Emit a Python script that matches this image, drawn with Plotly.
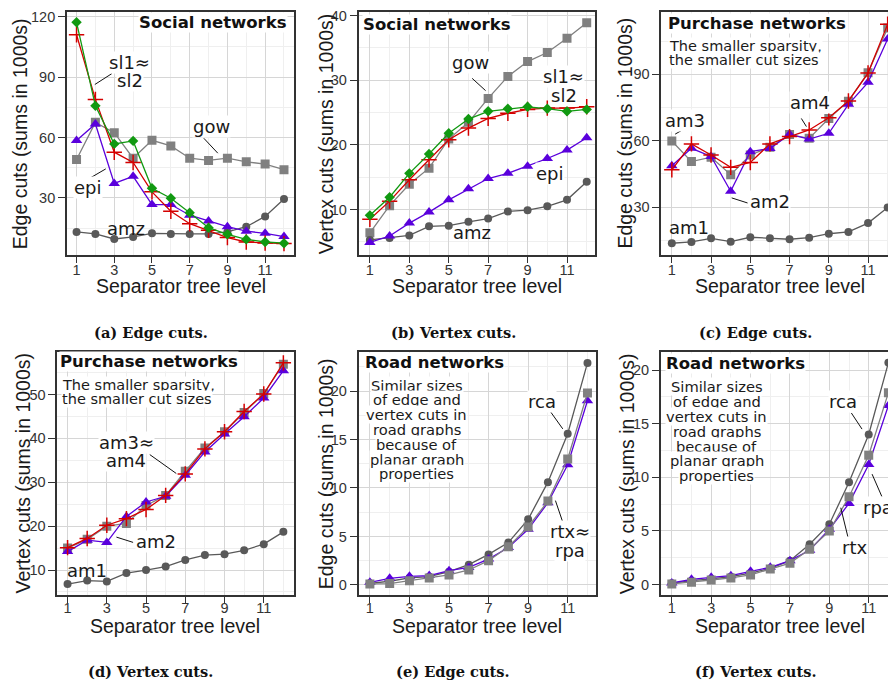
import plotly.graph_objects as go

W, H = 896, 683
OFF = 8  # page body margin of the html page

levels = list(range(1, 13))
tick_levels = [1, 3, 5, 7, 9, 11]

# social networks, edge cuts (sums in 1000s)
sl1_edge = [111, 78.9, 52.7, 47.6, 33, 23.4, 17.2, 13.9, 10.3, 8.1, 7.6, 7.3]
sl2_edge = [117.2, 75.7, 56.8, 58.3, 34.8, 29.8, 22.6, 15.2, 11.9, 9.4, 8.1, 7.5]
epi_edge = [58.5, 66.7, 37.2, 40.7, 26.7, 26.7, 21.4, 18.5, 15.7, 13.5, 12.4, 10.8]
gow_edge = [49.1, 67.5, 62.4, 49.7, 58.6, 55.8, 49.7, 48.6, 49.7, 47.9, 46.8, 44]
amz_edge = [13.1, 12.1, 9.6, 10.6, 12.4, 12.1, 12.1, 12.1, 13.1, 15.7, 20.8, 29.5]

# social networks, vertex cuts
sl1_vert = [8.5, 11.3, 14.6, 17.7, 20.8, 22.6, 24.1, 24.9, 25.5, 25.7, 25.7, 25.9]
sl2_vert = [9.1, 11.9, 15.6, 18.6, 21.8, 24.0, 25.2, 25.6, 25.9, 25.6, 25.2, 25.5]
epi_vert = [4.9, 5.9, 7.9, 9.6, 11.5, 13.2, 14.8, 15.6, 16.7, 17.9, 19.2, 21.1]
gow_vert = [6.4, 10.6, 13.9, 16.4, 20.9, 23.5, 27.2, 30.6, 32.9, 34.3, 36.5, 38.9]
amz_vert = [5.3, 5.6, 6.0, 7.4, 7.5, 8.1, 8.6, 9.7, 9.9, 10.5, 11.5, 14.3]

# purchase networks, edge cuts
am1_edge = [13.7, 14.3, 15.9, 14.4, 16.4, 15.9, 15.5, 16.2, 18.0, 18.8, 22.8, 29.9]
am2_edge = [48.7, 56.6, 52.9, 37.2, 55.1, 56.5, 62.9, 60.8, 63.4, 76.5, 86.4, 106]
am3_edge = [59.9, 50.6, 52.6, 44.7, 53.6, 57.1, 62.8, 61.1, 70.1, 77.9, 90.8, 111]
am4_edge = [46.9, 58.6, 53.6, 48, 50.2, 58.6, 61.9, 64.9, 70.4, 78, 90.6, 112.7]

# purchase networks, vertex cuts
am1_vert = [6.8, 7.6, 7.4, 9.3, 10.0, 10.8, 12.3, 13.4, 13.6, 14.5, 15.9, 18.7]
am2_vert = [14.2, 16.8, 16.3, 22.2, 25.5, 26.8, 31.6, 36.9, 41.0, 44.9, 49.2, 55.4]
am3_vert = [15.0, 17.0, 20.0, 20.6, 24.7, 27.0, 32.5, 37.8, 41.5, 45.9, 50.2, 56.9]
am4_vert = [15.1, 17.2, 20.2, 21.7, 23.8, 27.0, 31.9, 37.6, 41.5, 46.1, 50.1, 57.2]

# road networks, edge cuts
rca_edge = [0.17, 0.38, 0.72, 0.85, 1.37, 2.09, 3.15, 4.38, 6.77, 10.6, 15.6, 22.9]
rtx_edge = [0.1, 0.14, 0.44, 0.72, 1.03, 1.54, 2.5, 3.93, 5.98, 8.65, 13.0, 19.8]
rpa_edge = [0.27, 0.68, 0.89, 0.96, 1.47, 1.81, 2.67, 3.86, 5.74, 8.48, 12.4, 19.0]

# road networks, vertex cuts
rca_vert = [0.12, 0.37, 0.53, 0.74, 1.08, 1.51, 2.23, 3.77, 5.63, 9.55, 14.0, 20.7]
rtx_vert = [0.06, 0.22, 0.43, 0.62, 0.9, 1.45, 2.0, 3.3, 5.0, 8.2, 12.06, 17.9]
rpa_vert = [0.15, 0.49, 0.68, 0.83, 1.24, 1.61, 2.23, 3.2, 5.16, 7.57, 11.2, 16.7]

# marker styles
STY = {
    "circle": dict(color="#595959", symbol="circle", size=8),
    "square": dict(color="#808080", symbol="square", size=9),
    "tri": dict(color="#5a00dc", symbol="triangle-up", size=10),
    "plus": dict(color="#d40000", symbol="cross-thin", size=11),
    "diamond": dict(color="#119911", symbol="diamond", size=8),
}

# panels: pixel box (x0, x1, y0, y1), axis ranges, y ticks
panels = [
    dict(box=(67, 295, 8, 252), xr=(0.487, 12.55), yr=(1.86, 122.3), dt=30, mdt=15,
         ytitle="Edge cuts (sums in 1000s)", ytx=20, xtx=181, cap="(a) Edge cuts.", capx=151,
         series=[(gow_edge, "square", "gow"), (amz_edge, "circle", "amz"), (epi_edge, "tri", "epi"),
                 (sl1_edge, "plus", "sl1"), (sl2_edge, "diamond", "sl2")]),
    dict(box=(359.3, 596.7, 8, 252), xr=(0.423, 12.44), yr=(3.03, 40.57), dt=10, mdt=5,
         ytitle="Vertex cuts (sums in 1000s)", ytx=326.7, xtx=478.3, cap="(b) Vertex cuts.", capx=454,
         series=[(gow_vert, "square", "gow"), (amz_vert, "circle", "amz"), (epi_vert, "tri", "epi"),
                 (sl1_vert, "plus", "sl1"), (sl2_vert, "diamond", "sl2")]),
    dict(box=(662.7, 904, 8, 252), xr=(0.461, 12.73), yr=(8.58, 118.2), dt=30, mdt=15,
         ytitle="Edge cuts (sums in 1000s)", ytx=626.7, xtx=781.7, cap="(c) Edge cuts.", capx=757,
         series=[(am1_edge, "circle", "am1"), (am3_edge, "square", "am3"), (am2_edge, "tri", "am2"),
                 (am4_edge, "plus", "am4")]),
    dict(box=(57.3, 295, 350, 594), xr=(0.471, 12.56), yr=(4.41, 59.67), dt=10, mdt=5,
         ytitle="Vertex cuts (sums in 1000s)", ytx=23.3, xtx=175.5, cap="(d) Vertex cuts.", capx=151,
         series=[(am1_vert, "circle", "am1"), (am3_vert, "square", "am3"), (am2_vert, "tri", "am2"),
                 (am4_vert, "plus", "am4")]),
    dict(box=(359.3, 597.3, 350, 594), xr=(0.425, 12.43), yr=(-0.995, 24.03), dt=5, mdt=2.5,
         ytitle="Edge cuts (sums in 1000s)", ytx=326.7, xtx=478.5, cap="(e) Edge cuts.", capx=454,
         series=[(rca_edge, "circle", "rca"), (rpa_edge, "tri", "rpa"), (rtx_edge, "square", "rtx")]),
    dict(box=(662.3, 904, 350, 594), xr=(0.443, 12.69), yr=(-0.93, 21.69), dt=5, mdt=2.5,
         ytitle="Vertex cuts (sums in 1000s)", ytx=628.3, xtx=781.3, cap="(f) Vertex cuts.", capx=757.5,
         series=[(rca_vert, "circle", "rca"), (rpa_vert, "tri", "rpa"), (rtx_vert, "square", "rtx")]),
]

# series labels: panel, x, y (data units), lines, leader line (x0, y0, x1, y1), white box
labels = [
    (1, 3.82, 92.7, ["sl1≈", "sl2"], (1.97, 86.3, 2.87, 91.7), True),
    (1, 8.14, 65.6, ["gow"], (7.75, 59.6, 8.49, 52.2), True),
    (1, 1.61, 35.3, ["epi"], (1.56, 39, 2.55, 44.4), True),
    (1, 3.61, 14.9, ["amz"], None, False),
    (2, 6.11, 32.7, ["gow"], (6.19, 30.3, 6.87, 28.4), True),
    (2, 10.83, 29.1, ["sl1≈", "sl2"], None, True),
    (2, 10.16, 15.6, ["epi"], None, True),
    (2, 6.16, 6.5, ["amz"], None, False),
    (3, 1.68, 69.3, ["am3"], (1.17, 63, 1.76, 66), True),
    (3, 8.04, 77.1, ["am4"], (7.6, 70.1, 7.86, 66.4), True),
    (3, 6.0, 32.7, ["am2"], (4.05, 34.2, 4.86, 31.9), True),
    (3, 1.9, 20.6, ["am1"], None, False),
    (4, 4.0, 37.0, ["am3≈", "am4"], (5.19, 36.3, 6.54, 32.0), True),
    (4, 5.53, 16.6, ["am2"], (3.49, 17.5, 4.34, 16.3), True),
    (4, 2.0, 10.0, ["am1"], None, False),
    (5, 9.7, 18.9, ["rca"], (10.12, 17.9, 10.75, 16.1), True),
    (5, 11.14, 4.54, ["rtx≈", "rpa"], (10.38, 8.7, 10.88, 5.7), True),
    (6, 9.7, 17.1, ["rca"], (10.12, 16.0, 10.66, 14.5), True),
    (6, 11.47, 7.17, ["rpa"], (11.17, 10.3, 11.67, 8.2), True),
    (6, 10.26, 3.46, ["rtx"], (9.58, 7.17, 9.95, 4.39), True),
]

headers = [
    (288.3, 18.3, "right", "Social networks"),
    (362.7, 20.7, "left", "Social networks"),
    (668.3, 19.3, "left", "Purchase networks"),
    (59.3, 360, "left", "Purchase networks"),
    (365, 360.7, "left", "Road networks"),
    (666.7, 361.7, "left", "Road networks"),
]

sparsity_note = ["The smaller sparsity,", "the smaller cut sizes"]
road_note = ["Similar sizes", "of edge and", "vertex cuts in", "road graphs",
             "because of", "planar graph", "properties"]

SANS = "Liberation Sans"
DJ = "DejaVu Sans"
INK = "#1a1a1a"


def px(x):
    return (x - OFF) / W


def py(y):
    return 1 - (y - OFF) / H


fig = go.Figure()
annotations = []
shapes = []

for i, p in enumerate(panels, 1):
    sfx = "" if i == 1 else str(i)
    x0, x1, y0, y1 = p["box"]
    top_row = y0 < 300
    for vals, st, name in p["series"]:
        s = STY[st]
        mk = dict(symbol=s["symbol"], size=s["size"], color=s["color"])
        if st == "plus":
            mk["line"] = dict(color=s["color"], width=1.5)
        fig.add_trace(go.Scatter(
            x=levels, y=vals, name=name, mode="lines+markers",
            line=dict(color=s["color"], width=1.3), marker=mk,
            xaxis="x" + sfx, yaxis="y" + sfx))
    fig.layout["xaxis" + sfx] = dict(
        domain=[px(x0), min(px(x1), 1)], anchor="y" + sfx, range=list(p["xr"]),
        tickmode="array", tickvals=tick_levels, ticks="outside", ticklen=7,
        tickcolor="#333", tickwidth=1.2, ticklabelstandoff=-6 if top_row else -8,
        ticklabeloverflow="allow",
        showline=True, mirror=True, linecolor="#333", linewidth=1.5,
        showgrid=True, gridcolor="#d6d6d6", gridwidth=1.3,
        minor=dict(tickmode="array", tickvals=[2, 4, 6, 8, 10, 12], showgrid=True,
                   gridcolor="#efefef", gridwidth=1),
        zeroline=False, tickfont=dict(family=SANS, size=14.5, color="#333"))
    fig.layout["yaxis" + sfx] = dict(
        domain=[py(y1), min(py(y0), 1)], anchor="x" + sfx, range=list(p["yr"]),
        tick0=0, dtick=p["dt"], ticks="outside", ticklen=7, tickcolor="#333", tickwidth=1.2,
        ticklabeloverflow="allow",
        showline=True, mirror=True, linecolor="#333", linewidth=1.5,
        showgrid=True, gridcolor="#d6d6d6", gridwidth=1.3,
        minor=dict(dtick=p["mdt"], tick0=0, showgrid=True, gridcolor="#efefef", gridwidth=1),
        zeroline=False, tickfont=dict(family=SANS, size=14.5, color="#333"))

    xt_y = 284 if top_row else 626
    cap_y = 330 if top_row else 671
    annotations.append(dict(x=px(p["xtx"]), y=py(xt_y), xref="paper", yref="paper",
                            xanchor="center", yanchor="middle",
                            text="Separator tree level", showarrow=False,
                            font=dict(family=SANS, size=19.5, color=INK)))
    annotations.append(dict(x=px(p["ytx"]), y=py((y0 + y1) / 2), xref="paper", yref="paper",
                            xanchor="center", yanchor="middle",
                            text=p["ytitle"], textangle=-90, showarrow=False,
                            font=dict(family=SANS, size=19.5, color=INK)))
    annotations.append(dict(x=px(p["capx"]), y=py(cap_y), xref="paper", yref="paper",
                            xanchor="center", yanchor="middle",
                            text="<b>" + p["cap"] + "</b>", showarrow=False,
                            font=dict(family="DejaVu Serif", size=14.6, color="#111")))

for i, x, y, lines, lead, boxed in labels:
    sfx = "" if i == 1 else str(i)
    n = len(lines)
    for k, t in enumerate(lines):
        annotations.append(dict(x=x, y=y, xref="x" + sfx, yref="y" + sfx, text=t,
                                xanchor="center", yanchor="middle",
                                showarrow=False, yshift=(n - 1) * 9.2 - k * 18.4,
                                bgcolor="white" if boxed else "rgba(0,0,0,0)", borderpad=0,
                                font=dict(family=DJ, size=18, color=INK)))
    if lead:
        shapes.append(dict(type="line", xref="x" + sfx, yref="y" + sfx,
                           x0=lead[0], y0=lead[1], x1=lead[2], y1=lead[3],
                           line=dict(color="#111", width=1)))

for x, y, anc, t in headers:
    annotations.append(dict(x=px(x), y=py(y), xref="paper", yref="paper",
                            xanchor=anc, yanchor="middle",
                            text="<b>" + t + "</b>", showarrow=False, bgcolor="white", borderpad=0,
                            font=dict(family=DJ, size=16.5, color="#111")))

for x, y0 in [(669.3, 41.7), (61, 382.7)]:
    for k, t in enumerate(sparsity_note):
        annotations.append(dict(x=px(x), y=py(y0 + k * 14.3), xref="paper", yref="paper",
                                xanchor="left", yanchor="middle", text=t, showarrow=False,
                                bgcolor="white", borderpad=0,
                                font=dict(family=DJ, size=14.5, color=INK)))

for x, y0 in [(417.5, 383.3), (718.3, 385)]:
    for k, t in enumerate(road_note):
        annotations.append(dict(x=px(x), y=py(y0 + k * 14.9), xref="paper", yref="paper",
                                xanchor="center", yanchor="middle", text=t, showarrow=False,
                                bgcolor="white", borderpad=0,
                                font=dict(family=DJ, size=14.7, color=INK)))

fig.update_layout(width=W, height=H, margin=dict(l=0, r=0, t=0, b=0),
                  paper_bgcolor="white", plot_bgcolor="white", showlegend=False,
                  annotations=annotations, shapes=shapes)

fig.write_html("out.html")
